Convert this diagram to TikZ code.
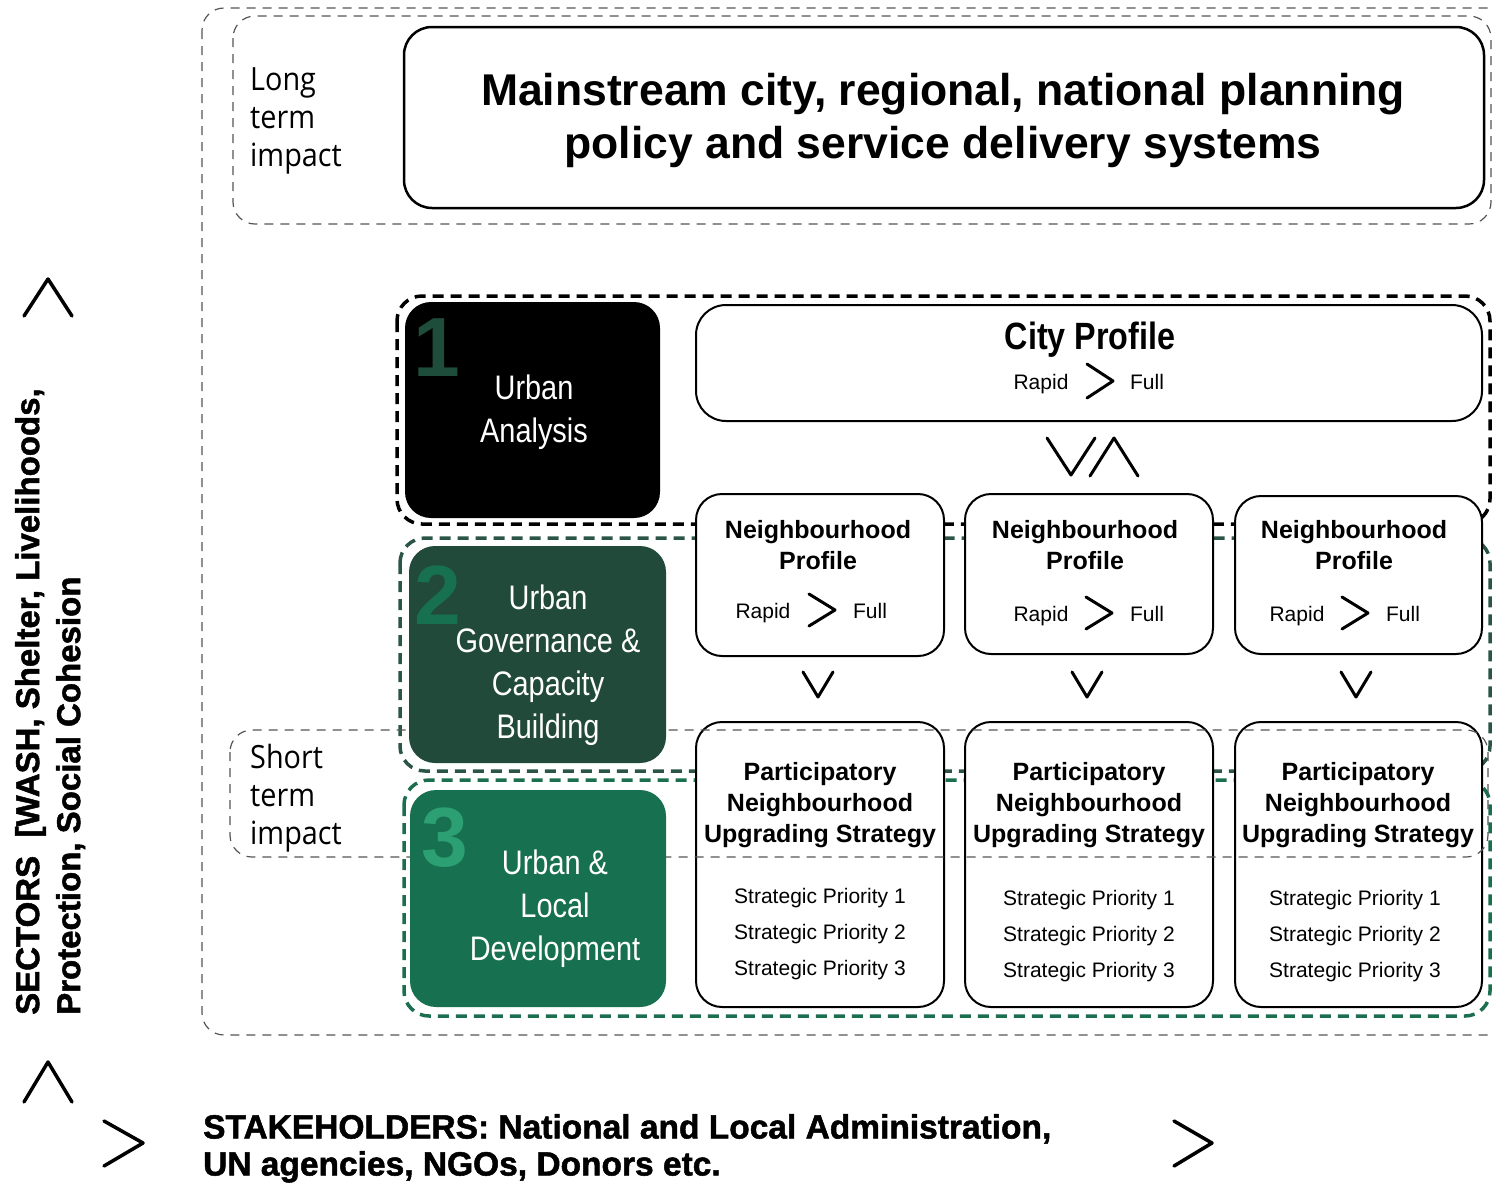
\documentclass[tikz,border=0pt]{standalone}
\usepackage{fontspec}
\setmainfont{Liberation Sans}
\newfontfamily\narrowf[FakeStretch=0.85]{Liberation Sans}
\newfontfamily\impactf[FakeStretch=0.9]{Open Sans}
\newfontfamily\heavyf[FakeBold=1.5]{Liberation Sans Bold}
\definecolor{boxTwo}{HTML}{224A3B}
\definecolor{boxThree}{HTML}{17704F}
\definecolor{numOne}{HTML}{1F4D3C}
\definecolor{numTwo}{HTML}{17704F}
\definecolor{numThree}{HTML}{2CA073}
\definecolor{dashTwo}{HTML}{2B5546}
\definecolor{dashThree}{HTML}{1B6F4F}
\definecolor{thingray}{HTML}{555555}
\tikzset{
  thindash/.style={draw=thingray, line width=1.2pt, dash pattern=on 9pt off 7pt, rounded corners=22pt},
  grpdash/.style={line width=3.5pt, dash pattern=on 11pt off 7pt, rounded corners=25pt},
  wbox/.style={draw=black, line width=2pt, rounded corners=26pt, fill=white, inner sep=0pt},
  cbox/.style={rounded corners=26pt, inner sep=0pt},
  chev/.style={line width=3pt, line cap=round, line join=round},
  phase/.style={text=white, align=center, inner sep=0pt, font=\narrowf\fontsize{34}{43}\selectfont},
  bignum/.style={inner sep=0pt, font=\bfseries\fontsize{84}{84}\selectfont},
  impacttxt/.style={anchor=west, align=left, inner sep=0pt, font=\impactf\fontsize{32}{38}\selectfont},
  boldtitle/.style={align=center, inner sep=0pt, font=\bfseries\fontsize{25}{31}\selectfont},
  smalltxt/.style={inner sep=0pt, anchor=base, font=\fontsize{21}{25}\selectfont},
  prio/.style={align=center, inner sep=0pt, font=\fontsize{21}{36}\selectfont},
}
\begin{document}
\begin{tikzpicture}[x=1pt,y=-1pt]
\useasboundingbox (0,0) rectangle (1492,1184);

% outer and long-term frames
\draw[thindash] (202,8) rectangle (1515,1035);
\draw[thindash] (233,16) rectangle (1491,224);

% group dashed frames
\draw[grpdash, draw=black] (397,296) rectangle (1490,524);
\draw[grpdash, draw=dashTwo] (400,538) rectangle (1490,771);
\draw[grpdash, draw=dashThree] (404,780) rectangle (1490,1016);

% title
\node[wbox, line width=2.5pt, rounded corners=28pt, minimum width=1080pt, minimum height=181pt] (title) at (944,117.5) {};
\node[align=center, inner sep=0pt, font=\bfseries\fontsize{44.5}{53}\selectfont] (titletxt) at (943,120)
  {Mainstream city, regional, national planning\\policy and service delivery systems};
\node[impacttxt] (longterm) at (250,121) {Long\\term\\impact};

% city profile
\node[wbox, rounded corners=30pt, minimum width=786pt, minimum height=116pt] (city) at (1089,363) {};
\node[inner sep=0pt, font=\narrowf\bfseries\fontsize{38}{40}\selectfont] (citytxt) at (1090,340) {City Profile};
\node[smalltxt] (cityr) at (1041,389) {Rapid};
\node[smalltxt] (cityf) at (1147,389) {Full};
\draw[chev] (1087,364) -- (1113,381) -- (1087,398);

% up/down symbol
\draw[chev] (1047,438) -- (1071,475) -- (1095,438);
\draw[chev] (1090,476) -- (1114,438) -- (1138,476);

% neighbourhood profiles
\node[wbox, minimum width=248pt, minimum height=162pt] (np1) at (820,575) {};
\node[wbox, minimum width=248pt, minimum height=160pt] (np2) at (1089,574) {};
\node[wbox, minimum width=247pt, minimum height=158pt] (np3) at (1358.5,575) {};
\node[boldtitle] (np1t) at (818,545.5) {Neighbourhood\\Profile};
\node[boldtitle] (np2t) at (1085,545.5) {Neighbourhood\\Profile};
\node[boldtitle] (np3t) at (1354,545.5) {Neighbourhood\\Profile};
\node[smalltxt] (np1r) at (763,618) {Rapid};
\node[smalltxt] (np1f) at (870,618) {Full};
\draw[chev] (809,594) -- (835,610) -- (809,626);
\node[smalltxt] (np2r) at (1041,621) {Rapid};
\node[smalltxt] (np2f) at (1147,621) {Full};
\draw[chev] (1086,597) -- (1112,613) -- (1086,629);
\node[smalltxt] (np3r) at (1297,621) {Rapid};
\node[smalltxt] (np3f) at (1403,621) {Full};
\draw[chev] (1342,597) -- (1368,613) -- (1342,629);

% down chevrons
\draw[chev] (803,672) -- (818,697) -- (833,672);
\draw[chev] (1072,672) -- (1087,697) -- (1102,672);
\draw[chev] (1341,672) -- (1356,697) -- (1371,672);

% participatory strategies
\node[wbox, minimum width=248pt, minimum height=285pt] (pn1) at (820,864.5) {};
\node[wbox, minimum width=248pt, minimum height=285pt] (pn2) at (1089,864.5) {};
\node[wbox, minimum width=247pt, minimum height=285pt] (pn3) at (1358.5,864.5) {};
\node[boldtitle] (pn1t) at (820,805) {Participatory\\Neighbourhood\\Upgrading Strategy};
\node[boldtitle] (pn2t) at (1089,805) {Participatory\\Neighbourhood\\Upgrading Strategy};
\node[boldtitle] (pn3t) at (1358,805) {Participatory\\Neighbourhood\\Upgrading Strategy};
\node[prio] (pn1p) at (820,934) {Strategic Priority 1\\Strategic Priority 2\\Strategic Priority 3};
\node[prio] (pn2p) at (1089,936) {Strategic Priority 1\\Strategic Priority 2\\Strategic Priority 3};
\node[prio] (pn3p) at (1355,936) {Strategic Priority 1\\Strategic Priority 2\\Strategic Priority 3};

% short-term frame
\draw[thindash] (230,730) rectangle (1488,857);
\node[impacttxt] (shortterm) at (250,798) {Short\\term\\impact};

% phase boxes
\node[cbox, fill=black, minimum width=255pt, minimum height=216pt] (ph1) at (532.5,410) {};
\node[cbox, fill=boxTwo, minimum width=257pt, minimum height=217pt] (ph2) at (537.5,654.5) {};
\node[cbox, fill=boxThree, minimum width=256pt, minimum height=217pt] (ph3) at (538,898.5) {};
\node[bignum, text=numOne] (n1) at (437,348) {1};
\node[bignum, text=numTwo] (n2) at (438,595) {2};
\node[bignum, text=numThree] (n3) at (445,838) {3};
\node[phase] (ph1t) at (534,412) {Urban\\Analysis};
\node[phase] (ph2t) at (548,665) {Urban\\Governance \&\\Capacity\\Building};
\node[phase] (ph3t) at (555,909) {Urban \&\\Local\\Development};

% sectors axis
\draw[chev, line width=3.5pt] (24,316) -- (48,279) -- (72,316);
\draw[chev, line width=3.5pt] (24,1102) -- (48,1062) -- (72,1102);
\node[rotate=90, anchor=north west, align=left, inner sep=0pt,
      font=\heavyf\fontsize{33}{41}\selectfont] (sectors) at (15,1015)
  {SECTORS\ \ [WASH, Shelter, Livelihoods,\\Protection, Social Cohesion};

% stakeholders axis
\draw[chev, line width=3.5pt] (104,1121) -- (143,1143) -- (104,1166);
\draw[chev, line width=3.5pt] (1174,1121) -- (1212,1143) -- (1174,1166);
\node[anchor=north west, align=left, inner sep=0pt,
      font=\heavyf\fontsize{33.5}{37}\selectfont] (stake) at (203,1114)
  {STAKEHOLDERS: National and Local Administration,\\UN agencies, NGOs, Donors etc.};
\end{tikzpicture}
\end{document}
